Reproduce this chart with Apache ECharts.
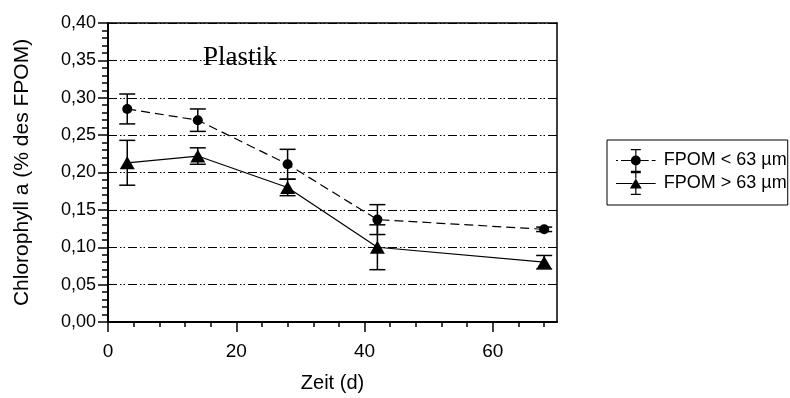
<!DOCTYPE html>
<html>
<head>
<meta charset="utf-8">
<script src="https://cdn.jsdelivr.net/npm/echarts@6/dist/echarts.min.js"></script>
<style>
  html, body { margin: 0; padding: 0; background: #fff; }
  #chart { width: 790px; height: 398px; }
</style>
</head>
<body>
<div id="chart"></div>
<script>
// Messzeitpunkte (Tage)
const days = [3, 14, 28, 42, 68]
// FPOM < 63 µm
const fineMean = [0.285, 0.270, 0.211, 0.137, 0.124]
const fineErr = [0.020, 0.015, 0.020, 0.020, 0.003]
// FPOM > 63 µm
const coarseMean = [0.213, 0.222, 0.180, 0.100, 0.080]
const coarseErr = [0.030, 0.011, 0.011, 0.030, 0.009]

const xMajorTicks = [0, 20, 40, 60]
const xMinorTicks = [4, 8, 12, 16, 24, 28, 32, 36, 44, 48, 52, 56, 64, 68]

const fineName = 'FPOM < 63 µm'
const coarseName = 'FPOM > 63 µm'

const fineIcon = 'path://M0 11.4h2v1.2h-2z M5 11.4h10v1.2h-10z M15 12a5 5 0 1 1 10 0a5 5 0 1 1 -10 0z M25 11.4h8v1.2h-8z M36 11.4h4v1.2h-4z M19.4 1.6h1.2v5.4h-1.2z M19.4 17h1.2v5.4h-1.2z M15 0.4h10v1.2h-10z M15 22.4h10v1.2h-10z'
const coarseIcon = 'path://M0 11.4h16.6v1.2h-16.6z M23.4 11.4h16.6v1.2h-16.6z M14 17L20 7L26 17z M19.4 1.6h1.2v5.4h-1.2z M19.4 17h1.2v5.4h-1.2z M15 0.4h10v1.2h-10z M15 22.4h10v1.2h-10z'

const font = 'Liberation Sans, Arial, sans-serif'

const points = (means) => days.map((d, i) => [d, means[i]])
const bars = (means, errs) => days.map((d, i) => [d, means[i] - errs[i], means[i] + errs[i]])

// Fehlerbalken mit Kappen
const renderErr = (params, api) => {
  const x = api.value(0)
  const top = api.coord([x, api.value(2)])
  const bot = api.coord([x, api.value(1)])
  const w = 8
  const style = { stroke: '#000', lineWidth: 1.5 }
  return {
    type: 'group',
    children: [
      { type: 'line', shape: { x1: top[0], y1: top[1], x2: bot[0], y2: bot[1] }, style },
      { type: 'line', shape: { x1: top[0] - w, y1: top[1], x2: top[0] + w, y2: top[1] }, style },
      { type: 'line', shape: { x1: bot[0] - w, y1: bot[1], x2: bot[0] + w, y2: bot[1] }, style }
    ]
  }
}

const chart = echarts.init(document.getElementById('chart'), null, { renderer: 'canvas' })

chart.setOption({
  animation: false,
  backgroundColor: '#fff',
  title: {
    text: 'Plastik',
    left: 203,
    top: 44,
    padding: 0,
    textStyle: { fontFamily: 'Liberation Serif, Times New Roman, serif', fontWeight: 'normal', fontSize: 27, color: '#000' }
  },
  legend: {
    orient: 'vertical',
    left: 607,
    top: 140,
    padding: [9, 1, 10, 9],
    itemGap: 0,
    itemWidth: 40,
    itemHeight: 23,
    borderColor: '#000',
    borderWidth: 1,
    borderRadius: 0,
    itemStyle: { color: '#000', borderWidth: 0 },
    textStyle: { fontFamily: font, fontSize: 18, color: '#000', padding: [0, 0, 0, 3] },
    data: [
      { name: fineName, icon: fineIcon },
      { name: coarseName, icon: coarseIcon }
    ]
  },
  grid: { left: 108, top: 23, right: 233, bottom: 75, containLabel: false },
  xAxis: [
    {
      type: 'value',
      min: 0,
      max: 70,
      interval: 20,
      position: 'bottom',
      name: 'Zeit (d)',
      nameLocation: 'middle',
      nameGap: 51,
      nameTextStyle: { fontFamily: font, fontSize: 20, color: '#000' },
      axisLine: { show: true, onZero: false, lineStyle: { color: '#000', width: 2 } },
      axisTick: { show: true, customValues: xMajorTicks, length: 10, lineStyle: { color: '#000', width: 1.5 } },
      axisLabel: { customValues: xMajorTicks, fontFamily: font, fontSize: 19, color: '#000', margin: 20 },
      splitLine: { show: false }
    },
    {
      type: 'value',
      min: 0,
      max: 70,
      position: 'bottom',
      axisLine: { show: false },
      axisTick: { show: true, customValues: xMinorTicks, length: 5, lineStyle: { color: '#000', width: 1.5 } },
      axisLabel: { show: false },
      splitLine: { show: false }
    },
    {
      type: 'value',
      min: 0,
      max: 70,
      position: 'top',
      axisLine: { show: true, onZero: false, lineStyle: { color: '#000', width: 1.5 } },
      axisTick: { show: false },
      axisLabel: { show: false },
      splitLine: { show: false }
    }
  ],
  yAxis: [
    {
      type: 'value',
      min: 0,
      max: 0.4,
      interval: 0.05,
      name: 'Chlorophyll a (% des FPOM)',
      nameLocation: 'middle',
      nameGap: 75,
      nameTextStyle: { fontFamily: font, fontSize: 21, color: '#000' },
      axisLine: { show: true, onZero: false, lineStyle: { color: '#000', width: 2 } },
      axisTick: { show: true, length: 10, lineStyle: { color: '#000', width: 1.5 } },
      minorTick: { show: true, splitNumber: 5, length: 6, lineStyle: { color: '#000', width: 1.5 } },
      axisLabel: {
        fontFamily: font,
        fontSize: 18,
        color: '#000',
        margin: 12,
        formatter: (v) => v.toFixed(2).replace('.', ',')
      },
      splitLine: { show: true, lineStyle: { color: '#000', width: 1, type: [9, 3, 1.5, 2, 1.5, 3] } }
    },
    {
      type: 'value',
      min: 0,
      max: 0.4,
      position: 'right',
      axisLine: { show: true, onZero: false, lineStyle: { color: '#000', width: 1.5 } },
      axisTick: { show: false },
      axisLabel: { show: false },
      splitLine: { show: false }
    }
  ],
  series: [
    {
      type: 'custom',
      renderItem: renderErr,
      data: bars(fineMean, fineErr),
      encode: { x: 0, y: [1, 2] },
      z: 2
    },
    {
      type: 'custom',
      renderItem: renderErr,
      data: bars(coarseMean, coarseErr),
      encode: { x: 0, y: [1, 2] },
      z: 2
    },
    {
      name: fineName,
      type: 'line',
      data: points(fineMean),
      symbol: 'circle',
      symbolSize: 10,
      itemStyle: { color: '#000' },
      lineStyle: { color: '#000', width: 1.2, type: [9, 5] },
      z: 3
    },
    {
      name: coarseName,
      type: 'line',
      data: points(coarseMean),
      symbol: 'triangle',
      symbolSize: [15, 13],
      itemStyle: { color: '#000' },
      lineStyle: { color: '#000', width: 1.2 },
      z: 3
    }
  ]
})
</script>
</body>
</html>
